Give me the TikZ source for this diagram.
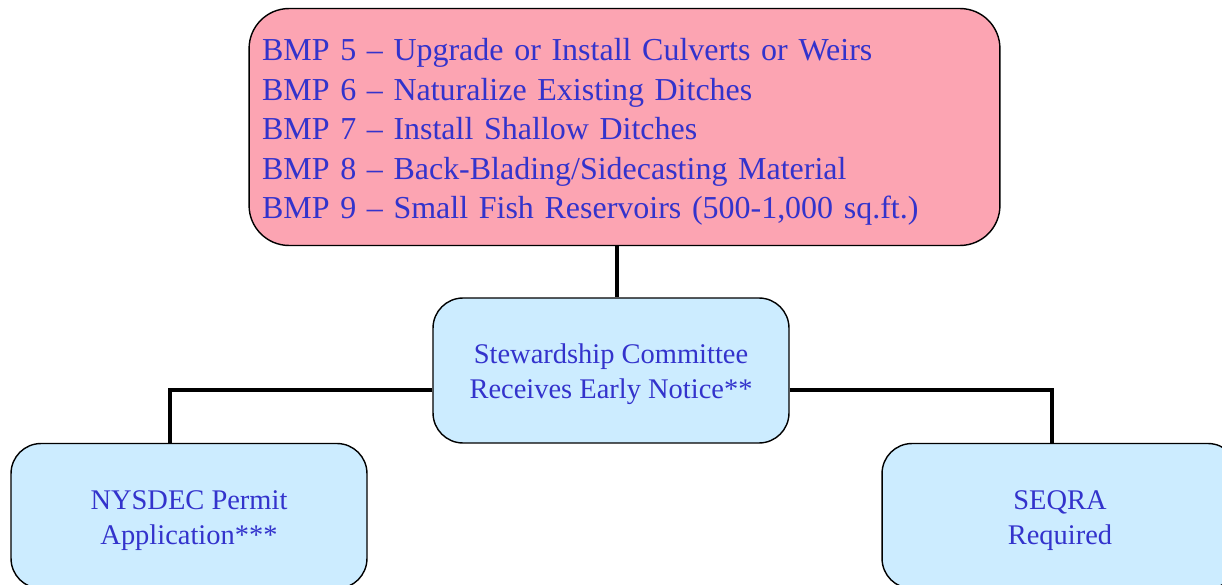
\documentclass[tikz,border=0pt]{standalone}
\usepackage{fontspec}
\setmainfont{Liberation Serif}
\usepackage{color}

\definecolor{bmppink}{HTML}{FCA4B2}
\definecolor{stepblue}{HTML}{CCECFF}
\definecolor{textblue}{HTML}{3333CC}
\newcommand{\boxstrut}{\rule{0pt}{0.97em}}

\begin{document}
\begin{tikzpicture}[
       x=0.02cm, y=-0.02cm,
       box/.style={
         draw=black,
         line width=0.8pt,
         rounded corners=0.6cm,
         text=textblue,
         align=center,
         minimum width=7.12cm,
         minimum height=2.9cm,
         fill=stepblue,
         font=\fontsize{16.2}{19.8}\selectfont
       },
       link/.style={line width=2.3pt}
     ]
\useasboundingbox (0,0) rectangle (1222,584);
\clip (0,0) rectangle (1222,584);
\node[box,fill=bmppink,rounded corners=0.8cm,minimum width=15.02cm,minimum height=4.74cm,
      align=left,text width=14.5cm,inner xsep=0.26cm,
      font=\fontsize{18.2}{22.5}\selectfont] (bmp) at (624.5,127) {\rule{0pt}{1.0em}BMP 5 -- Upgrade or Install Culverts or Weirs\\
BMP 6 -- Naturalize Existing Ditches\\
BMP 7 -- Install Shallow Ditches\\
BMP 8 -- Back-Blading/Sidecasting Material\\
BMP 9 -- Small Fish Reservoirs (500-1,000 sq.ft.)};
\node[box] (notice) at (611,370.5) {\boxstrut Stewardship Committee\\Receives Early Notice**};
\node[box] (permit) at (189,516) {\boxstrut NYSDEC Permit\\Application***};
\node[box] (seqra) at (1060,516) {\boxstrut SEQRA\\Required};

\draw[link] (bmp.south -| 617,0) -- (notice.north -| 617,0);
\draw[link] (notice.west |- 0,390) -| (permit.north -| 170,0);
\draw[link] (notice.east |- 0,390) -| (seqra.north -| 1052,0);

\end{tikzpicture}
\end{document}
